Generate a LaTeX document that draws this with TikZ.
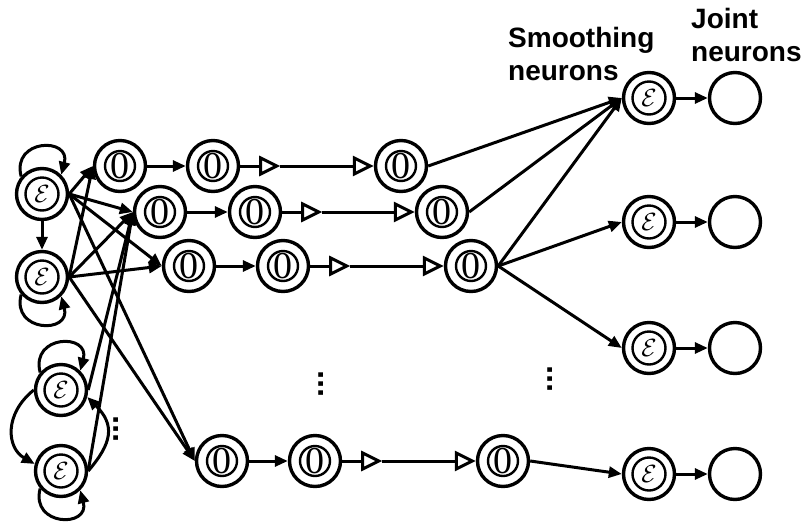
\documentclass[tikz,border=0pt]{standalone}
\usepackage{fontspec}
\setmainfont{Liberation Sans}
\newfontfamily\numfont{Liberation Serif}
\usetikzlibrary{arrows.meta}

\begin{document}
\begin{tikzpicture}[x=1pt,y=1pt]
            \tikzstyle{every node}+=[inner sep=0pt]
            \tikzstyle{neuron}=[circle,draw,line width=3.4pt,minimum size=51pt]
            \tikzstyle{zeroneuron}=[neuron,font=\numfont\fontsize{38}{38}\selectfont,path picture={\draw[line width=2.4pt] (path picture bounding box.center) circle (15pt);}]
            \tikzstyle{epsneuron}=[neuron,font=\fontsize{38}{38}\selectfont,path picture={\draw[line width=2.4pt] (path picture bounding box.center) circle (16.5pt);}]
            \tikzstyle{conn}=[line width=3pt,-{Triangle[length=13pt,width=11pt]}]
            \tikzstyle{hollow}=[line width=3pt,-{Triangle[open,length=21pt,width=20pt]}]
            \tikzstyle{lbl}=[font=\bfseries\fontsize{28}{33}\selectfont,align=left,anchor=north west]
            \tikzstyle{dotcol}=[font=\bfseries\fontsize{32}{32}\selectfont,rotate=90]
            \useasboundingbox (0,0) rectangle (804,-523);
            \node[epsneuron] (E1) at (42,-194) {$\mathcal{E}$};
            \node[epsneuron] (E2) at (42,-277) {$\mathcal{E}$};
            \node[epsneuron] (E3) at (61,-390) {$\mathcal{E}$};
            \node[epsneuron] (E4) at (61,-471) {$\mathcal{E}$};
            \node[zeroneuron] (R1a) at (120,-166) {0};
            \node[zeroneuron] (R1b) at (213,-166) {0};
            \node[zeroneuron] (R1c) at (401,-166) {0};
            \node[zeroneuron] (R2a) at (160,-212) {0};
            \node[zeroneuron] (R2b) at (255,-212) {0};
            \node[zeroneuron] (R2c) at (442,-212) {0};
            \node[zeroneuron] (R3a) at (189,-266) {0};
            \node[zeroneuron] (R3b) at (283,-266) {0};
            \node[zeroneuron] (R3c) at (471,-266) {0};
            \node[zeroneuron] (R4a) at (222,-461) {0};
            \node[zeroneuron] (R4b) at (315,-461) {0};
            \node[zeroneuron] (R4c) at (503,-461) {0};
            \node[epsneuron] (S1) at (649,-98) {$\mathcal{E}$};
            \node[epsneuron] (S2) at (649,-222) {$\mathcal{E}$};
            \node[epsneuron] (S3) at (649,-348) {$\mathcal{E}$};
            \node[epsneuron] (S4) at (649,-474) {$\mathcal{E}$};
            \node[neuron] (J1) at (735,-98) {};
            \node[neuron] (J2) at (735,-222) {};
            \node[neuron] (J3) at (735,-348) {};
            \node[neuron] (J4) at (735,-474) {};
            \node[lbl] (smoothLbl) at (508,-27) {Smoothing\\neurons};
            \node[lbl] (jointLbl) at (691,-8) {Joint\\neurons};
            \node[dotcol] (dotsMid) at (321,-384) {...};
            \node[dotcol] (dotsEnd) at (550,-379) {...};
            \node[dotcol] (dotsLeft) at (116,-429) {...};
            \draw[conn] (E1.140) .. controls +(-10,38) and +(10,38) .. (E1.45);
            \draw[conn] (E2.220) .. controls +(-10,-38) and +(10,-38) .. (E2.315);
            \draw[conn] (E3.140) .. controls +(-10,38) and +(10,38) .. (E3.45);
            \draw[conn] (E4.220) .. controls +(-10,-38) and +(10,-38) .. (E4.315);
            \draw[conn] (E3.west) .. controls +(-30,-24) and +(-28,16) .. (E4.165);
            \draw[conn] (E4.east) .. controls +(24,28) and +(28,-28) .. (E3.345);
            \draw[conn] (E1) -- (E2);
            \draw[conn] (E1.east) -- (R1a.west);
            \draw[conn] (E1.east) -- (R2a.west);
            \draw[conn] (E1.east) -- (R3a.west);
            \draw[conn] (E1.east) -- (R4a.west);
            \draw[conn] (E2.east) -- (R1a.west);
            \draw[conn] (E2.east) -- (R2a.west);
            \draw[conn] (E2.east) -- (R3a.west);
            \draw[conn] (E2.east) -- (R4a.west);
            \draw[conn] (E3.east) -- (R2a.west);
            \draw[conn] (E4.east) -- (R2a.west);
            \draw[conn] (R1a) -- (R1b);
            \draw[conn] (R2a) -- (R2b);
            \draw[conn] (R3a) -- (R3b);
            \draw[conn] (R4a) -- (R4b);
            \coordinate (m1) at ([xshift=40pt]R1b.east);
            \coordinate (m2) at ([xshift=40pt]R2b.east);
            \coordinate (m3) at ([xshift=40pt]R3b.east);
            \coordinate (m4) at ([xshift=40pt]R4b.east);
            \draw[hollow] (R1b) -- (m1);
            \draw[hollow] (m1) -- (R1c);
            \draw[hollow] (R2b) -- (m2);
            \draw[hollow] (m2) -- (R2c);
            \draw[hollow] (R3b) -- (m3);
            \draw[hollow] (m3) -- (R3c);
            \draw[hollow] (R4b) -- (m4);
            \draw[hollow] (m4) -- (R4c);
            \draw[conn] (R1c.east) -- (S1.west);
            \draw[conn] (R2c.east) -- (S1.west);
            \draw[conn] (R3c.east) -- (S1.west);
            \draw[conn] (R3c.east) -- (S2.west);
            \draw[conn] (R3c.east) -- (S3.west);
            \draw[conn] (R4c.east) -- (S4.west);
            \draw[conn] (S1) -- (J1);
            \draw[conn] (S2) -- (J2);
            \draw[conn] (S3) -- (J3);
            \draw[conn] (S4) -- (J4);
\end{tikzpicture}
\end{document}
